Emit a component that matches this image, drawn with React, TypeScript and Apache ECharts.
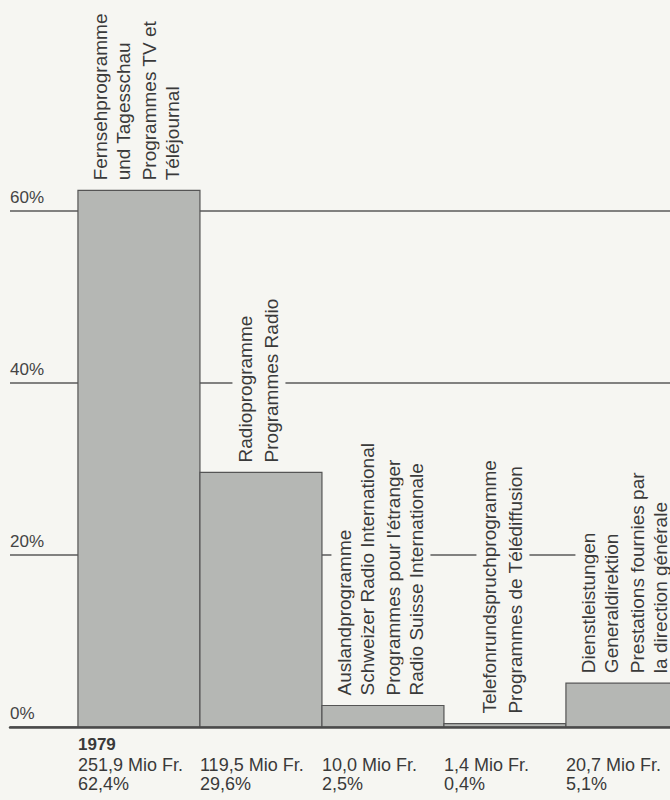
import React, { useEffect, useRef } from "react";
import * as echarts from "echarts";

// ---- data ----
const year = "1979";
const labelsDE: string[][] = [
  ["Fernsehprogramme", "und Tagesschau"],
  ["Radioprogramme"],
  ["Auslandprogramme", "Schweizer Radio International"],
  ["Telefonrundspruchprogramme"],
  ["Dienstleistungen", "Generaldirektion"],
];
const labelsFR: string[][] = [
  ["Programmes TV et", "Téléjournal"],
  ["Programmes Radio"],
  ["Programmes pour l'étranger", "Radio Suisse Internationale"],
  ["Programmes de Télédiffusion"],
  ["Prestations fournies par", "la direction générale"],
];
const amounts = [251.9, 119.5, 10.0, 1.4, 20.7]; // Mio Fr.
const shares = [62.4, 29.6, 2.5, 0.4, 5.1]; // %
const yTicks = [0, 20, 40, 60];

const BG = "#f6f6f2";
const BAR = "#b5b7b4";
const EDGE = "#555555";
const TXT = "#3a3a3a";
const FONT = "'Liberation Sans', Arial, Helvetica, sans-serif";

const fmt = (v: number) => v.toFixed(1).replace(".", ",");

export default function App() {
  const ref = useRef<HTMLDivElement>(null);
  useEffect(() => {
    if (!ref.current) return;
    const chart = echarts.init(ref.current, undefined, { renderer: "svg" });
    const option: any = {
      animation: false,
      backgroundColor: BG,
      title: {
        text: year,
        left: 78,
        top: 736,
        padding: 0,
        textStyle: { fontSize: 17, fontWeight: "bold", color: TXT, fontFamily: FONT },
      },
      grid: { left: 10, top: 39, right: 0, height: 688 },
      xAxis: {
        type: "value",
        min: -0.557,
        max: 4.853,
        z: 3,
        axisLine: { show: true, lineStyle: { color: "#4a4a4a", width: 2.5 } },
        axisTick: { show: false },
        axisLabel: { show: false },
        splitLine: { show: false },
      },
      yAxis: {
        type: "value",
        min: 0,
        max: 80,
        interval: 20,
        axisLine: { show: false },
        axisTick: { show: false },
        axisLabel: {
          inside: true,
          margin: 0,
          showMaxLabel: false,
          align: "left",
          verticalAlign: "bottom",
          padding: [0, 0, 5, 0],
          color: "#444",
          fontSize: 17,
          fontFamily: FONT,
          formatter: (v: number) => (yTicks.indexOf(v) >= 0 ? v + "%" : ""),
        },
        splitLine: { show: true, showMaxLine: false, lineStyle: { color: "#5a5a5a", width: 1.5 } },
      },
      series: [
        {
          type: "custom",
          clip: false,
          data: shares.map((v, i) => [i, v]),
          renderItem: (params: any, api: any) => {
            const i = api.value(0);
            const v = api.value(1);
            const p0 = api.coord([i, 0]);
            const p1 = api.coord([i + 1, v]);
            const left = p0[0];
            const right = p1[0];
            const base = p0[1];
            const top = p1[1];
            const children: any[] = [
              {
                type: "rect",
                shape: { x: left, y: top, width: right - left, height: base - top },
                style: { fill: BAR, stroke: EDGE, lineWidth: 1.2 },
              },
            ];
            const mk = (text: string, x: number) => ({
              type: "text",
              x,
              y: top - 6,
              rotation: Math.PI / 2,
              z2: 10,
              style: {
                text,
                fill: TXT,
                fontSize: 19,
                fontFamily: FONT,
                align: "left",
                verticalAlign: "middle",
                textAlign: "left",
                textVerticalAlign: "middle",
                backgroundColor: BG,
                padding: [4, 4, 4, 4],
              },
            });
            const de = labelsDE[i];
            const fr = labelsFR[i];
            de.forEach((t, k) => children.push(mk(t, left + 46 - 23 * (de.length - 1 - k))));
            fr.forEach((t, k) => children.push(mk(t, left + 72 + 23 * k)));
            const small = (text: string, y: number) => ({
              type: "text",
              x: left,
              y,
              style: {
                text,
                fill: TXT,
                fontSize: 18,
                fontFamily: FONT,
                align: "left",
                verticalAlign: "middle",
                textAlign: "left",
                textVerticalAlign: "middle",
              },
            });
            children.push(small(fmt(amounts[i]) + " Mio Fr.", base + 38));
            children.push(small(fmt(shares[i]) + "%", base + 57));
            return { type: "group", children };
          },
        },
      ],
    };
    chart.setOption(option);
    return () => chart.dispose();
  }, []);
  return (
    <div
      ref={ref}
      style={{ position: "absolute", left: 0, top: 0, width: 670, height: 800 }}
    />
  );
}
